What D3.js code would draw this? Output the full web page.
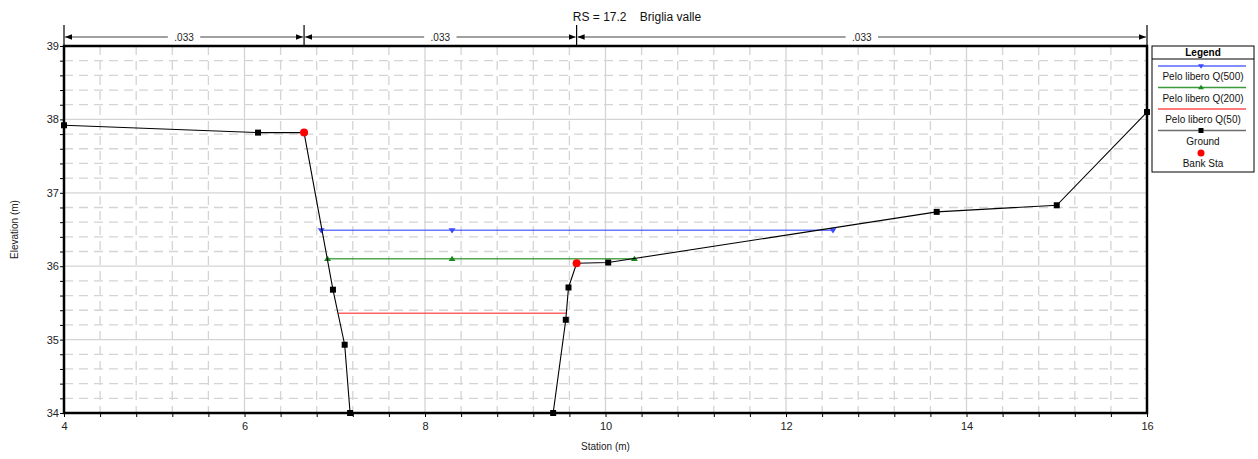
<!DOCTYPE html>
<html>
<head>
<meta charset="utf-8">
<script src="https://cdn.jsdelivr.net/npm/d3@7"></script>
<style>
  body { margin: 0; background: #fff; }
  svg { display: block; font-family: "Liberation Sans", Arial, sans-serif; }
</style>
</head>
<body>
<svg id="chart" width="1258" height="459"></svg>
<script>
// cross section data
const groundSta = [4.0, 6.15, 6.66, 6.98, 7.11, 7.17, 9.42, 9.56, 9.59, 9.68, 10.03, 13.67, 15.0, 16.0];
const groundElev = [37.92, 37.82, 37.82, 35.68, 34.93, 34.0, 34.0, 35.27, 35.71, 36.04, 36.05, 36.74, 36.83, 38.10];
const groundMarked = [true, true, false, true, true, true, true, true, true, false, true, true, true, true];

const bankSta = [6.66, 9.68];
const bankElev = [37.82, 36.04];

const wsNames = ["Pelo libero Q(500)", "Pelo libero Q(200)", "Pelo libero Q(50)"];
const wsElev = [36.49, 36.10, 35.36];
const wsStations = [[6.85, 8.3, 12.52], [6.92, 8.3, 10.32], [7.04, 9.57]];
const wsColors = ["#3b4cff", "#1a8a1a", "#ff3030"];
const wsMarkers = ["down", "up", null];

const nBounds = [4, 6.66, 9.68, 16];
const nLabels = [".033", ".033", ".033"];

const xTicks = [4, 6, 8, 10, 12, 14, 16];
const yTicks = [34, 35, 36, 37, 38, 39];

const titleText = "RS = 17.2    Briglia valle";

const svg = d3.select("#chart");
const pLeft = 64, pRight = 1147, pTop = 46, pBottom = 413;

const x = d3.scaleLinear().domain([4, 16]).range([pLeft, pRight]);
const y = d3.scaleLinear().domain([34, 39]).range([pBottom, pTop]);

const gridColor = "#d4d4d4";

// minor grid
const minorX = d3.range(4.4, 16, 0.4).filter(v => Math.abs(v / 2 - Math.round(v / 2)) > 0.01);
const minorY = d3.range(34.2, 39, 0.2).filter(v => Math.abs(v - Math.round(v)) > 0.01);

svg.append("g").selectAll("line").data(minorX).join("line")
  .attr("x1", d => x(d)).attr("x2", d => x(d))
  .attr("y1", pTop).attr("y2", pBottom)
  .attr("stroke", gridColor).attr("stroke-width", 1.3)
  .attr("stroke-dasharray", "9,6");

svg.append("g").selectAll("line").data(minorY).join("line")
  .attr("x1", pLeft).attr("x2", pRight)
  .attr("y1", d => y(d)).attr("y2", d => y(d))
  .attr("stroke", gridColor).attr("stroke-width", 1.3)
  .attr("stroke-dasharray", "9,6");

// major grid
svg.append("g").selectAll("line").data(xTicks.slice(1, -1)).join("line")
  .attr("x1", d => x(d)).attr("x2", d => x(d))
  .attr("y1", pTop).attr("y2", pBottom)
  .attr("stroke", gridColor).attr("stroke-width", 1.3);

svg.append("g").selectAll("line").data(yTicks.slice(1, -1)).join("line")
  .attr("x1", pLeft).attr("x2", pRight)
  .attr("y1", d => y(d)).attr("y2", d => y(d))
  .attr("stroke", gridColor).attr("stroke-width", 1.3);

// axes
const xAxis = d3.axisBottom(x).tickValues(d3.range(4, 16.01, 0.4)).tickSize(4)
  .tickFormat(d => xTicks.some(t => Math.abs(t - d) < 0.01) ? d3.format("d")(d) : "");
const gx = svg.append("g").attr("transform", `translate(0,${pBottom})`).call(xAxis);
gx.select(".domain").remove();
gx.selectAll("text").attr("font-size", 11).attr("fill", "#222").attr("dy", "0.9em");

const yAxis = d3.axisLeft(y).tickValues(d3.range(34, 39.01, 0.2)).tickSize(4)
  .tickFormat(d => yTicks.some(t => Math.abs(t - d) < 0.01) ? d3.format("d")(d) : "");
const gy = svg.append("g").attr("transform", `translate(${pLeft},0)`).call(yAxis);
gy.select(".domain").remove();
gy.selectAll("text").attr("font-size", 11).attr("fill", "#222").attr("x", -5);

// frame
svg.append("rect")
  .attr("x", pLeft).attr("y", pTop)
  .attr("width", pRight - pLeft).attr("height", pBottom - pTop)
  .attr("fill", "none").attr("stroke", "#000").attr("stroke-width", 2.5);

// axis titles
svg.append("text").text("Station (m)")
  .attr("x", (pLeft + pRight) / 2).attr("y", 450)
  .attr("text-anchor", "middle").attr("font-size", 10).attr("fill", "#222");

svg.append("text").text("Elevation (m)")
  .attr("transform", `translate(18,${(pTop + pBottom) / 2}) rotate(-90)`)
  .attr("text-anchor", "middle").attr("font-size", 10).attr("fill", "#222");

// title
svg.append("text").text(titleText)
  .attr("x", 637).attr("y", 21)
  .attr("text-anchor", "middle").attr("font-size", 12).attr("fill", "#111")
  .style("white-space", "pre");

// manning n bar
const nY = 37;
svg.append("defs").append("marker")
  .attr("id", "arr").attr("viewBox", "0 0 10 10")
  .attr("refX", 10).attr("refY", 5)
  .attr("markerWidth", 7).attr("markerHeight", 7)
  .attr("markerUnits", "userSpaceOnUse")
  .attr("orient", "auto-start-reverse")
  .append("path").attr("d", "M0,1 L10,5 L0,9 Z").attr("fill", "#000");

svg.append("g").selectAll("line").data(nBounds).join("line")
  .attr("x1", d => x(d)).attr("x2", d => x(d))
  .attr("y1", 25).attr("y2", pTop)
  .attr("stroke", "#000").attr("stroke-width", 1.2);

nLabels.forEach((lab, i) => {
  const x0 = x(nBounds[i]), x1 = x(nBounds[i + 1]);
  const mid = (x0 + x1) / 2;
  const half = lab.length * 3.3 + 3;
  svg.append("line")
    .attr("x1", mid - half).attr("x2", x0 + 1)
    .attr("y1", nY).attr("y2", nY)
    .attr("stroke", "#808080").attr("stroke-width", 1.6)
    .attr("marker-end", "url(#arr)");
  svg.append("line")
    .attr("x1", mid + half).attr("x2", x1 - 1)
    .attr("y1", nY).attr("y2", nY)
    .attr("stroke", "#808080").attr("stroke-width", 1.6)
    .attr("marker-end", "url(#arr)");
  svg.append("text").text(lab)
    .attr("x", mid).attr("y", nY + 4)
    .attr("text-anchor", "middle").attr("font-size", 10).attr("fill", "#222");
});

const tri = (dir, s) => dir === "down"
  ? `M${-s},${-s * 0.6} L${s},${-s * 0.6} L0,${s * 0.9} Z`
  : `M${-s},${s * 0.6} L${s},${s * 0.6} L0,${-s * 0.9} Z`;

// water surfaces
wsNames.forEach((name, i) => {
  const st = wsStations[i];
  svg.append("line")
    .attr("x1", x(st[0])).attr("x2", x(st[st.length - 1]))
    .attr("y1", y(wsElev[i])).attr("y2", y(wsElev[i]))
    .attr("stroke", wsColors[i]).attr("stroke-opacity", 0.75).attr("stroke-width", 1.5);
  if (wsMarkers[i]) {
    svg.append("g").selectAll("path").data(st).join("path")
      .attr("transform", d => `translate(${x(d)},${y(wsElev[i])})`)
      .attr("d", tri(wsMarkers[i], 3.5))
      .attr("fill", wsColors[i]);
  }
});

// ground
const groundPts = groundSta.map((s, i) => [s, groundElev[i], groundMarked[i]]);
svg.append("path").datum(groundPts)
  .attr("d", d3.line().x(d => x(d[0])).y(d => y(d[1])))
  .attr("fill", "none").attr("stroke", "#000").attr("stroke-width", 1.1);

svg.append("g").selectAll("rect").data(groundPts.filter(d => d[2])).join("rect")
  .attr("x", d => x(d[0]) - 3).attr("y", d => y(d[1]) - 3)
  .attr("width", 6).attr("height", 6).attr("fill", "#000");

// bank stations
svg.append("g").selectAll("circle").data(bankSta).join("circle")
  .attr("cx", d => x(d)).attr("cy", (d, i) => y(bankElev[i]))
  .attr("r", 4).attr("fill", "#ff0000");

// legend
const lg = svg.append("g");
const lx = 1152, lw = 102, ly = 46;
lg.append("rect").attr("x", lx).attr("y", ly).attr("width", lw).attr("height", 126)
  .attr("fill", "#fff").attr("stroke", "#000").attr("stroke-width", 1);
lg.append("line").attr("x1", lx).attr("x2", lx + lw).attr("y1", ly + 13).attr("y2", ly + 13)
  .attr("stroke", "#000");
lg.append("text").text("Legend").attr("x", lx + lw / 2).attr("y", ly + 10)
  .attr("text-anchor", "middle").attr("font-size", 10).attr("font-weight", "bold");

const legendItems = wsNames.map((n, i) => ({ name: n, color: wsColors[i], marker: wsMarkers[i] }))
  .concat([{ name: "Ground", color: "#555", marker: "square" }]);
legendItems.forEach((it, i) => {
  const yy = ly + 20 + i * 21.5;
  lg.append("line").attr("x1", lx + 6).attr("x2", lx + lw - 8)
    .attr("y1", yy).attr("y2", yy)
    .attr("stroke", it.color).attr("stroke-width", 1.5).attr("stroke-opacity", 0.85);
  const cx = lx + lw / 2 - 2;
  if (it.marker === "square") {
    lg.append("rect").attr("x", cx - 2.5).attr("y", yy - 2.5).attr("width", 5).attr("height", 5).attr("fill", "#000");
  } else if (it.marker) {
    lg.append("path").attr("transform", `translate(${cx},${yy})`).attr("d", tri(it.marker, 3)).attr("fill", it.color);
  }
  lg.append("text").text(it.name).attr("x", lx + lw / 2).attr("y", yy + 14)
    .attr("text-anchor", "middle").attr("font-size", 10).attr("fill", "#111");
});
lg.append("circle").attr("cx", lx + lw / 2 - 2).attr("cy", ly + 107).attr("r", 3.5).attr("fill", "#ff0000");
lg.append("text").text("Bank Sta").attr("x", lx + lw / 2).attr("y", ly + 121)
  .attr("text-anchor", "middle").attr("font-size", 10).attr("fill", "#111");
</script>
</body>
</html>
